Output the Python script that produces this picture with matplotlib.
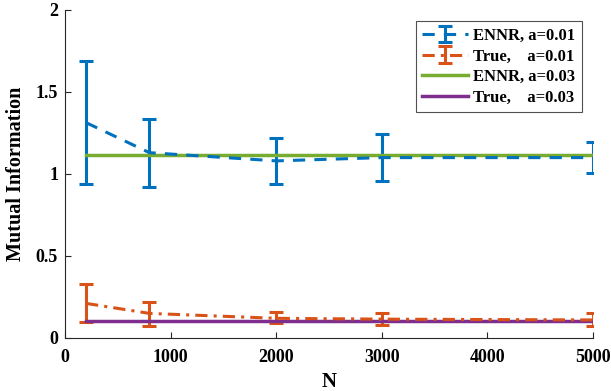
import matplotlib
matplotlib.use('Agg')
import matplotlib.pyplot as plt

plt.rcParams['font.family'] = ['Liberation Serif', 'DejaVu Serif']
plt.rcParams['font.weight'] = 'bold'

# 資料
N = [200, 800, 2000, 3000, 5000]
ennr_001 = [1.313, 1.13, 1.08, 1.10, 1.10]
ennr_001_lo = [0.937, 0.922, 0.94, 0.955, 1.005]
ennr_001_hi = [1.691, 1.337, 1.22, 1.245, 1.195]
true_001 = [0.211, 0.15, 0.12, 0.115, 0.11]
true_001_lo = [0.096, 0.075, 0.09, 0.08, 0.075]
true_001_hi = [0.329, 0.221, 0.16, 0.155, 0.15]
ennr_003 = [1.114, 1.114, 1.114, 1.114, 1.114]
true_003 = [0.105, 0.105, 0.105, 0.105, 0.105]

blue = '#0072BD'
orange = '#D95319'
green = '#77AC30'
purple = '#7E2F8E'

fig = plt.figure(figsize=(6.11, 3.91), dpi=100)
ax = fig.add_axes([65 / 611, 53 / 391, 528 / 611, 328 / 391])

err1 = [[m - l for m, l in zip(ennr_001, ennr_001_lo)], [h - m for m, h in zip(ennr_001, ennr_001_hi)]]
err2 = [[m - l for m, l in zip(true_001, true_001_lo)], [h - m for m, h in zip(true_001, true_001_hi)]]

h1 = ax.errorbar(N, ennr_001, yerr=err1, color=blue, ls=(0, (4, 3)), lw=2.2,
                 capsize=5, capthick=2.2, elinewidth=2.2, label='ENNR, a=0.01')
h2 = ax.errorbar(N, true_001, yerr=err2, color=orange, ls=(0, (4, 2, 1, 2)), lw=2.2,
                 capsize=5, capthick=2.2, elinewidth=2.2, label='True,    a=0.01')
h3, = ax.plot(N, ennr_003, color=green, lw=2.5, label='ENNR, a=0.03')
h4, = ax.plot(N, true_003, color=purple, lw=2.5, label='True,    a=0.03')

ax.set_xlim(0, 5000)
ax.set_ylim(0, 2)
ax.set_xticks([0, 1000, 2000, 3000, 4000, 5000])
ax.set_yticks([0, 0.5, 1, 1.5, 2])
ax.set_yticklabels(['0', '0.5', '1', '1.5', '2'])
ax.tick_params(direction='in', length=4, labelsize=13, colors='#262626')
ax.tick_params(axis='x', pad=8)
ax.tick_params(axis='y', pad=5)
for lab in ax.get_xticklabels() + ax.get_yticklabels():
    lab.set_color('black')
ax.spines['top'].set_visible(False)
ax.spines['right'].set_visible(False)
ax.spines['left'].set_color('#262626')
ax.spines['bottom'].set_color('#262626')

ax.set_xlabel('N', fontsize=15, fontweight='bold')
ax.set_ylabel('Mutual Information', fontsize=14.5, fontweight='bold')
ax.yaxis.set_label_coords(-0.074, 0.5)

leg = ax.legend(handles=[h1, h2, h3, h4], loc='upper right', bbox_to_anchor=(0.979, 0.966),
                borderaxespad=0, fontsize=12, frameon=True, fancybox=False, edgecolor='#262626',
                handlelength=2.75, handletextpad=0.3, borderpad=0.4, labelspacing=0.28)
leg.get_frame().set_linewidth(0.8)

fig.savefig('out.png', dpi=100)
